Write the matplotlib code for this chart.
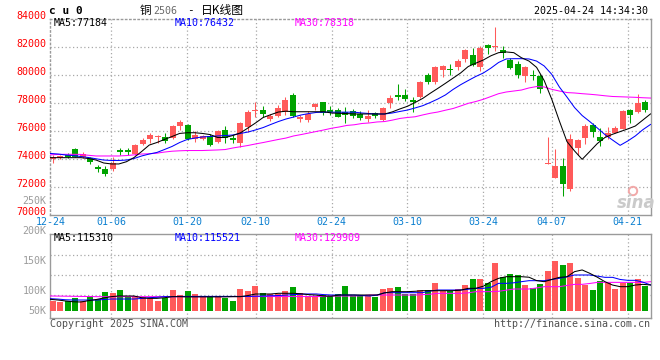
import matplotlib
matplotlib.use("Agg")
import matplotlib.pyplot as plt
import matplotlib.transforms as mtransforms
import matplotlib.patches as mpatches
import numpy as np
import pandas as pd

# ---------------- data ----------------
holidays = pd.to_datetime(['2025-01-01', '2025-01-28', '2025-01-29', '2025-01-30',
                           '2025-01-31', '2025-02-03', '2025-02-04', '2025-04-04'])
days = pd.bdate_range('2024-12-24', '2025-04-24')
days = days[~days.isin(holidays)]
day_labels = list(days.strftime('%m-%d'))

tick_labels = ['12-24', '01-06', '01-20', '02-10', '02-24', '03-10', '03-24', '04-07', '04-21']

open_ = [73990, 74010, 74250, 74680, 74090, 74060, 73370, 73230, 73250, 74610,
         74580, 74300, 75040, 75370, 75550, 75560, 75500, 76320, 76390, 75410,
         75410, 75640, 75200, 76040, 75490, 75130, 76270, 77390, 77460, 76820,
         77040, 77320, 78540, 76790, 76750, 77700, 78060, 77430, 77460, 77320,
         77390, 77200, 76840, 77230, 76750, 78000, 78540, 78510, 78200, 78410,
         79960, 79490, 80320, 80370, 80560, 81090, 81390, 80560, 82110, 81990,
         81750, 81040, 80730, 79890, 79960, 79890, 73640, 72630, 73460, 71800,
         74770, 75490, 76370, 75560, 75560, 75840, 76130, 77460, 77320, 78040]
close = [74130, 74200, 74110, 74130, 74300, 73730, 73270, 72910, 73700, 74490,
         74480, 74960, 75320, 75700, 75640, 75240, 76320, 76610, 75410, 75680,
         75610, 74960, 75960, 75490, 75320, 76560, 77340, 77460, 77180, 77070,
         77610, 78180, 77070, 76960, 77180, 77890, 77250, 77340, 76990, 77110,
         77040, 76870, 77070, 77010, 77590, 78320, 78360, 78250, 78020, 79460,
         79490, 80540, 80610, 80300, 80960, 81750, 80660, 81910, 81910, 82040,
         81510, 80490, 79960, 80540, 79890, 78940, 73680, 73460, 72160, 75370,
         75320, 76320, 75890, 75250, 75840, 76160, 77390, 77130, 77990, 77460]
high = [74230, 74250, 74370, 74750, 74490, 74130, 73540, 73460, 74110, 74770,
        74730, 75040, 75490, 75800, 75680, 75800, 76390, 76750, 76460, 75960,
        75680, 75750, 76040, 76320, 75680, 76630, 77460, 78060, 77750, 77180,
        77820, 78360, 78680, 77110, 77390, 77990, 78060, 77750, 77610, 77680,
        77540, 77360, 77460, 77340, 77660, 78540, 79320, 78960, 78410, 79540,
        80090, 80610, 80660, 80730, 81130, 81840, 81910, 82040, 82200, 83390,
        82040, 81200, 80960, 80610, 80320, 80010, 75560, 74660, 74060, 75730,
        75370, 76440, 76560, 76160, 76250, 76320, 77460, 77560, 78630, 78180]
low = [73700, 73960, 74040, 74090, 74040, 73610, 73060, 72750, 73090, 74250,
       74250, 74250, 74940, 75110, 75140, 75090, 75360, 76040, 75340, 75200,
       75320, 74910, 75130, 75130, 75130, 74840, 75910, 76940, 76940, 76680,
       76990, 77110, 77000, 76630, 76630, 77460, 77110, 77110, 76940, 76560,
       76890, 76750, 76630, 76890, 76680, 77610, 78180, 78110, 77320, 78340,
       79340, 79340, 79840, 79960, 80300, 80890, 80610, 80250, 81440, 81680,
       81160, 80410, 79770, 79490, 79610, 78700, 73640, 72630, 71320, 71680,
       74230, 75010, 75560, 74890, 75410, 75800, 76090, 76560, 77230, 77320]

ma5 = [74060, 74060, 74060, 74060, 74060, 74000, 73890, 73680, 73610, 73610,
       73770, 74070, 74500, 74960, 75140, 75360, 75570, 75790, 75840, 75840,
       75790, 75710, 75500, 75500, 75640, 75830, 76180, 76540, 76930, 77130,
       77320, 77380, 77340, 77340, 77340, 77340, 77340, 77250, 77230, 77210,
       77180, 77180, 77180, 77180, 77180, 77330, 77540, 77730, 78000, 78290,
       78660, 79010, 79370, 79740, 80110, 80570, 80810, 81040, 81340, 81560,
       81610, 81560, 81200, 80960, 80510, 79570, 78230, 76680, 75210, 74540,
       73940, 74500, 75070, 75500, 75730, 75920, 76110, 76320, 76750, 77184]
ma10 = [74360, 74320, 74250, 74210, 74140, 74070, 73980, 73890, 73860, 73860,
        73890, 74000, 74180, 74320, 74430, 74640, 74860, 75140, 75360, 75460,
        75540, 75570, 75610, 75640, 75680, 75790, 75890, 76040, 76210, 76430,
        76640, 76820, 76960, 77110, 77210, 77290, 77310, 77310, 77310, 77310,
        77310, 77250, 77210, 77180, 77180, 77250, 77360, 77460, 77610, 77770,
        78000, 78250, 78540, 78930, 79270, 79570, 79860, 80110, 80460, 80860,
        81110, 81130, 81130, 81110, 80960, 80610, 80010, 79110, 78390, 77640,
        77070, 76640, 76180, 75710, 75320, 74940, 75250, 75610, 76060, 76432]
ma30 = [74260, 74290, 74300, 74300, 74290, 74230, 74180, 74180, 74180, 74180,
        74210, 74260, 74320, 74340, 74380, 74460, 74520, 74550, 74570, 74570,
        74570, 74590, 74610, 74640, 74750, 74840, 74930, 75040, 75140, 75250,
        75360, 75460, 75610, 75710, 75820, 75930, 76040, 76160, 76250, 76360,
        76410, 76500, 76540, 76610, 76640, 76740, 76860, 76930, 76980, 77110,
        77230, 77320, 77450, 77570, 77750, 77940, 78070, 78230, 78430, 78630,
        78750, 78820, 78890, 79040, 79140, 79110, 78940, 78820, 78710, 78680,
        78630, 78590, 78540, 78480, 78430, 78410, 78390, 78370, 78340, 78318]

volume = [43500, 40500, 43500, 58400, 43500, 65900, 53900, 85300, 80800, 92700,
          59900, 65900, 62900, 58400, 44900, 58400, 92700, 68900, 88300, 74800,
          65900, 65900, 65900, 58400, 44900, 97200, 89700, 110700, 80800, 74800,
          74800, 89700, 104700, 77800, 65900, 62900, 70300, 65900, 74800, 110700,
          65900, 65900, 65900, 62900, 97200, 101700, 106200, 74800, 74800, 92700,
          92700, 125600, 88300, 89700, 97200, 115100, 142000, 142000, 125600, 215200,
          149500, 164400, 159900, 115100, 101700, 119600, 177900, 222700, 204700, 213700,
          146500, 115100, 92700, 133100, 125600, 97200, 125600, 125600, 142000, 110700]
vma5 = [50900, 47900, 43500, 40000, 39000, 45000, 50000, 57000, 63000, 65900,
        65900, 65900, 58000, 55400, 55400, 58000, 62900, 62900, 62000, 62000,
        62000, 62000, 62000, 62000, 62900, 62900, 68000, 74800, 74800, 74800,
        78000, 78000, 78000, 76000, 72000, 70000, 66000, 65000, 70300, 70300,
        70300, 70300, 70300, 70300, 80000, 85300, 85300, 85300, 87000, 89700,
        89700, 89700, 89700, 89700, 92000, 100200, 100200, 110000, 130000, 145000,
        152400, 152400, 152400, 150000, 135000, 130000, 140000, 149500, 152000, 175000,
        182600, 167600, 150000, 130000, 115000, 107700, 107700, 115000, 118100, 115310]
vma10 = [53900, 52000, 49000, 47900, 47900, 47900, 47900, 50000, 52400, 52400,
         52400, 52400, 55000, 58400, 60000, 62900, 62900, 64000, 64000, 64000,
         64000, 64000, 64000, 64000, 64000, 64000, 64000, 65000, 65900, 67000,
         68000, 70000, 72000, 74000, 75000, 75000, 72000, 70300, 70300, 70300,
         70300, 68000, 65900, 70000, 80800, 80800, 80800, 80800, 80800, 80800,
         88000, 92700, 92700, 92700, 92700, 96000, 100200, 100200, 105000, 122600,
         122600, 125000, 130000, 134600, 134600, 134600, 140000, 145000, 152000, 160000,
         160000, 160000, 155000, 149500, 149500, 140000, 136100, 136100, 128000, 115521]
vma30 = [66000, 65500, 65000, 64500, 64000, 63500, 63000, 62900, 62900, 62900,
         62900, 62900, 62900, 62900, 62900, 62900, 62900, 62900, 62900, 62900,
         62900, 63500, 63500, 63500, 63500, 63500, 63500, 63500, 63500, 63500,
         63500, 63500, 63500, 63500, 63500, 63500, 63500, 65900, 65900, 65900,
         65900, 67000, 70300, 70300, 70300, 70300, 70300, 70300, 70300, 72000,
         74000, 77800, 77800, 77800, 77800, 80000, 85300, 85300, 85300, 87000,
         92000, 97200, 97200, 97200, 102000, 107700, 107700, 107700, 113000, 118100,
         118100, 122000, 127000, 127000, 127000, 127000, 127000, 127000, 127000, 129909]

price_ticks = [70000, 72000, 74000, 76000, 78000, 80000, 82000, 84000]
vol_labels = ['250K', '200K', '150K', '100K', '50K']

# ---------------- style ----------------
RED = '#FF5A5A'
GREEN = '#00A300'
GRID = '#A8A8A8'
BORDER = '#9A9A9A'
DATE_C = '#0A7FD0'
MONO = 'DejaVu Sans Mono'
FS = 7.2
LW = 0.75

W, H = 660, 360
fig = plt.figure(figsize=(6.6, 3.6), dpi=100)
fig.patch.set_facecolor('white')


def fx(px):
    return px / W


def fy(py):
    return 1 - py / H


ax = fig.add_axes([fx(50.5), fy(214.5), fx(650.5) - fx(50.5), fy(18.5) - fy(214.5)])
axv = fig.add_axes([fx(50.5), fy(318.3), fx(650.5) - fx(50.5), fy(234.3) - fy(318.3)])

n = len(close)
x = np.arange(n)
# sina draws lines/grid on a slightly wider step than the candles
line_x = -0.3 + x * n / (n - 1)
o = np.array(open_); c = np.array(close); hi = np.array(high); lo = np.array(low)
up = c >= o
cols = np.where(up, RED, GREEN)

# candles
ax.vlines(x, lo, hi, colors=cols, lw=LW, zorder=3)
body_b = np.minimum(o, c)
body_h = np.maximum(np.abs(c - o), 60)
ax.bar(x, body_h, bottom=body_b, width=0.76, color=cols, linewidth=0, zorder=4)

ax.plot(line_x, ma30, color='#FF00FF', lw=LW, zorder=5)
ax.plot(line_x, ma10, color='#0000FF', lw=LW, zorder=5)
ax.plot(line_x, ma5, color='#000000', lw=LW, zorder=5)

ax.set_xlim(-0.3, n - 0.3)
ax.set_ylim(70000, 84000)

# volume
axv.bar(x, volume, width=0.8, color=cols, linewidth=0, zorder=3)
axv.plot(line_x, vma30, color='#FF00FF', lw=LW, zorder=5)
axv.plot(line_x, vma10, color='#0000FF', lw=LW, zorder=5)
axv.plot(line_x, vma5, color='#000000', lw=LW, zorder=5)
axv.set_xlim(-0.3, n - 0.3)
axv.set_ylim(-34000, 342300)

tick_idx = [day_labels.index(t) for t in tick_labels]
grid_x = [line_x[i] for i in tick_idx]

for a in (ax, axv):
    a.set_xticks([])
    a.set_yticks([])
    for gx in grid_x[1:]:
        a.axvline(gx, color=GRID, lw=0.9, ls=(0, (1, 2)), zorder=1)
    for s in a.spines.values():
        s.set_color(BORDER)
        s.set_linewidth(1.0)

for p in price_ticks[1:-1]:
    ax.axhline(p, color=GRID, lw=0.9, ls=(0, (1, 2)), zorder=1)
for v in [70000, 160000, 250000]:
    axv.axhline(v, color=GRID, lw=0.9, ls=(0, (1, 2)), zorder=1)
ax.spines['top'].set_linestyle((0, (1, 2)))
ax.spines['left'].set_linestyle((0, (1, 2)))

# price labels (slightly above gridlines)
lab_tr = mtransforms.offset_copy(ax.get_yaxis_transform(), fig=fig, y=2.5, units='dots')
for p in price_ticks:
    ax.text(-0.007, p, str(p), transform=lab_tr, ha='right', va='center',
            color='#FF0000', fontsize=FS, family=MONO, clip_on=False)

# date labels
date_tr = mtransforms.offset_copy(ax.get_xaxis_transform(), fig=fig, y=-7.2, units='dots')
for gx, t in zip(grid_x, tick_labels):
    ax.text(gx, 0, t, transform=date_tr, ha='center', va='center', color=DATE_C,
            fontsize=FS, family=MONO, clip_on=False)


def ftext(px, py, s, **kw):
    kw.setdefault('family', MONO)
    kw.setdefault('fontsize', FS)
    kw.setdefault('va', 'center')
    fig.text(fx(px), fy(py), s, **kw)


# volume labels
for lab, py in zip(vol_labels, [200.5, 230.7, 260.7, 290.7, 310.5]):
    ftext(46.5, py, lab, ha='right', color='#9C9C9C')

# titles
ftext(49, 11.5, 'c u 0', ha='left', fontsize=8, fontweight='bold', color='black')
ftext(140, 10.5, '铜', ha='left', fontsize=8.3, family=['Noto Sans CJK SC', 'DejaVu Sans'], color='black')
ftext(153, 10.5, '2506', ha='left', color='#6A6A6A')
ftext(190.5, 10.5, '-', ha='center', color='black', fontsize=8)
ftext(201, 10.5, '日K线图', ha='left', fontsize=8.5,
      family=['Noto Sans CJK SC', 'DejaVu Sans'], color='black')
ftext(648, 11.5, '2025-04-24 14:34:30', ha='right', color='black')

# legends
ftext(54, 23.5, 'MA5:%d' % ma5[-1], ha='left', color='black')
ftext(174.5, 23.5, 'MA10:%d' % ma10[-1], ha='left', color='#0000FF')
ftext(295, 23.5, 'MA30:%d' % ma30[-1], ha='left', color='#FF00FF')
ftext(54, 238, 'MA5:%d' % vma5[-1], ha='left', color='black')
ftext(174.5, 238, 'MA10:%d' % vma10[-1], ha='left', color='#0000FF')
ftext(295, 238, 'MA30:%d' % vma30[-1], ha='left', color='#FF00FF')

# footer
ftext(50, 324, 'Copyright 2025 SINA.COM', ha='left', color='#505050')
ftext(650, 324, 'http://finance.sina.com.cn', ha='right', color='#505050')

# sina watermark
ftext(636, 203, 'sina', ha='center', family='DejaVu Sans', fontsize=12,
      fontstyle='italic', fontweight='bold', color='#CACACA')
fig.add_artist(mpatches.Circle((633, H - 191), 4.2, transform=mtransforms.IdentityTransform(),
                               fill=False, ec='#F2A8A8', lw=1.4))

fig.savefig('out.png', dpi=100, facecolor='white')
